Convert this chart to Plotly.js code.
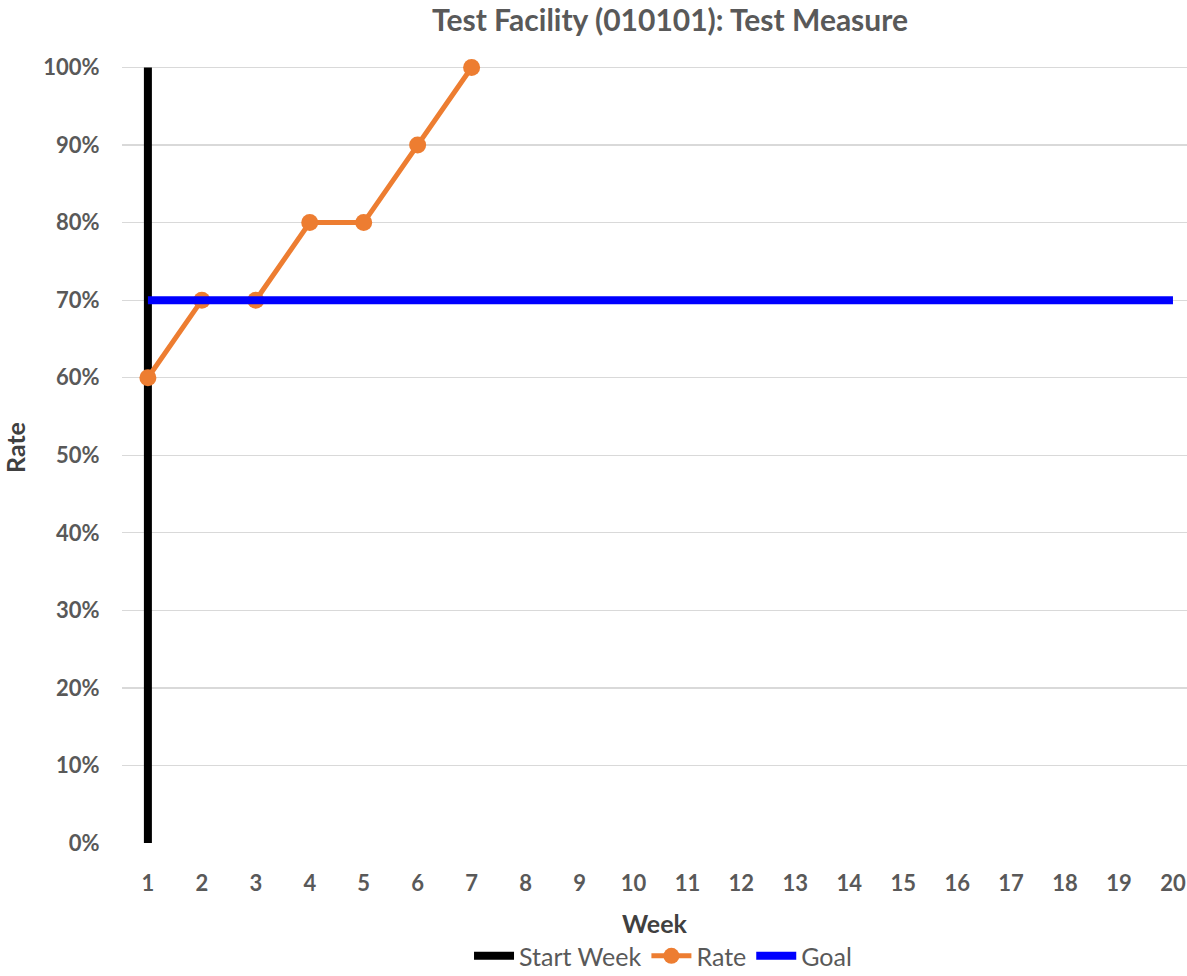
<!DOCTYPE html>
<html><head><meta charset="utf-8">
<script src="https://cdn.plot.ly/plotly-3.0.1.min.js"></script>
<style>html,body{margin:0;padding:0;background:#fff}</style>
</head><body>
<div id="chart" style="width:1187px;height:976px"></div>
<script>
const weeks = [1,2,3,4,5,6,7,8,9,10,11,12,13,14,15,16,17,18,19,20];
const rateWeeks = [1,2,3,4,5,6,7];
const rateValues = [0.60,0.70,0.70,0.80,0.80,0.90,1.00];
const goalValue = 0.70;
const startWeek = 1;
const startRange = [0, 1.0];
const yTicks = [0,0.1,0.2,0.3,0.4,0.5,0.6,0.7,0.8,0.9,1.0];
const yTickLabels = ['0%','10%','20%','30%','40%','50%','60%','70%','80%','90%','100%'];

const gray = '#595959';
const fontFam = 'Lato, "Open Sans", sans-serif';

const traces = [
  {type:'scatter', mode:'lines', name:'Start Week', x:[startWeek,startWeek], y:startRange,
   line:{color:'#000000', width:8}, hoverinfo:'skip'},
  {type:'scatter', mode:'lines+markers', name:'Rate', x:rateWeeks, y:rateValues,
   line:{color:'#ED7D31', width:5}, marker:{color:'#ED7D31', size:17}, cliponaxis:false},
  {type:'scatter', mode:'lines', name:'Goal', x:weeks, y:weeks.map(()=>goalValue),
   line:{color:'#0000FF', width:8}}
];

const layout = {
  width:1187, height:976,
  margin:{l:122, r:0, t:52, b:133, autoexpand:false},
  paper_bgcolor:'#fff', plot_bgcolor:'#fff',
  font:{family:fontFam, color:gray},
  title:{text:'<b>Test Facility (010101): Test Measure</b>', x:0.5645, xanchor:'center', y:0.9795, yanchor:'middle',
         font:{size:30, color:gray, family:fontFam}},
  xaxis:{range:[0.52,20.26], tickvals:weeks, ticktext:weeks.map(String), showgrid:false, zeroline:false,
         showline:false, ticks:'outside', ticklen:21, tickcolor:'rgba(0,0,0,0)',
         tickfont:{size:22, color:gray, family:fontFam, weight:'bold'},
         title:{text:'<b>Week</b>', font:{size:25, color:'#404040', family:fontFam}, standoff:20}},
  yaxis:{range:[0,1.02], tickvals:yTicks, ticktext:yTickLabels, showgrid:true, gridcolor:'#D9D9D9', gridwidth:1.3,
         zeroline:false, showline:false, ticks:'outside', ticklen:17, tickcolor:'rgba(0,0,0,0)',
         tickfont:{size:22, color:gray, family:fontFam, weight:'bold'},
         title:{text:'<b>Rate</b>', font:{size:25, color:'#404040', family:fontFam}, standoff:12}},
  showlegend:true,
  legend:{orientation:'h', x:0.508, xanchor:'center', y:-0.143, yanchor:'middle',
          font:{size:25, color:gray, family:fontFam}, itemwidth:40, tracegroupgap:0},
};

Plotly.newPlot('chart', traces, layout, {displayModeBar:false, staticPlot:true});
</script>
</body></html>
